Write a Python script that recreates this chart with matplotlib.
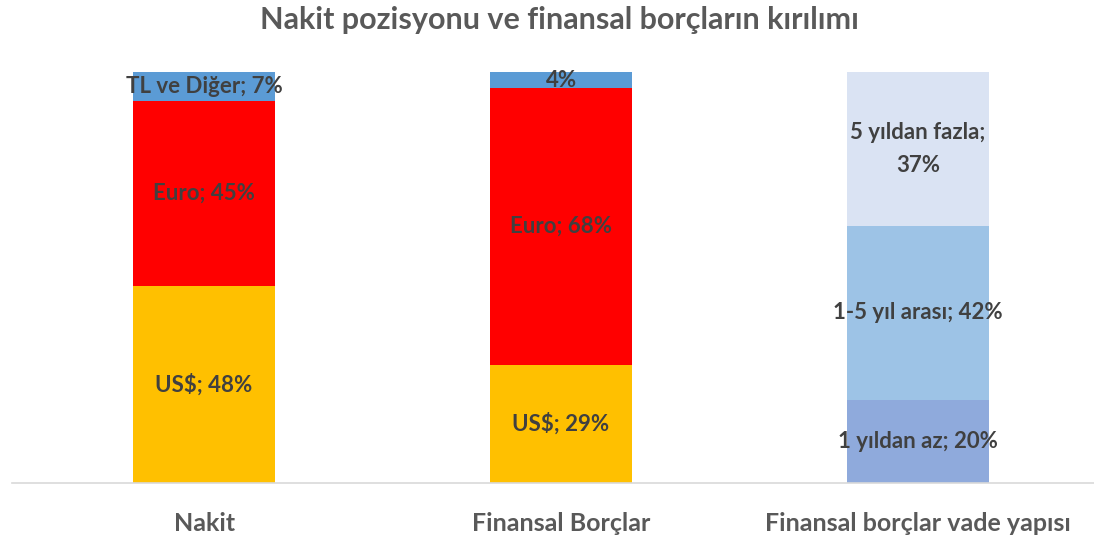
import matplotlib.pyplot as plt
import numpy as np

plt.rcParams['font.family'] = ['Lato', 'DejaVu Sans']

categories = ["Nakit", "Finansal Borçlar", "Finansal borçlar vade yapısı"]

# (label, value) segments from bottom to top, per bar
nakit = [("US$; 48%", 48), ("Euro; 45%", 45), ("TL ve Diğer; 7%", 7)]
borclar = [("US$; 29%", 29), ("Euro; 68%", 68), ("4%", 4)]
vade = [("1 yıldan az; 20%", 20), ("1-5 yıl arası; 42%", 42), ("5 yıldan fazla;\n37%", 37)]

colors_ccy = ["#FFC000", "#FF0000", "#5B9BD5"]
colors_vade = ["#8FAADC", "#9DC3E6", "#DAE3F3"]

stacks = [nakit, borclar, vade]
stack_colors = [colors_ccy, colors_ccy, colors_vade]

fig = plt.figure(figsize=(10.94, 5.37), dpi=100)
ax = fig.add_axes([0.011, 0.1006, 0.989, 0.7653])

width = 0.4
for i, (stack, cols) in enumerate(zip(stacks, stack_colors)):
    total = sum(v for _, v in stack)
    bottom = 0
    for (lab, v), c in zip(stack, cols):
        h = v / total
        ax.bar(i, h, width, bottom=bottom, color=c)
        ax.text(i, bottom + h / 2, lab, ha="center", va="center",
                fontsize=16, fontweight="bold", color="#404040",
                linespacing=1.7)
        bottom += h

ax.set_xlim(-0.538, 2.493)
ax.set_ylim(0, 1)
ax.set_yticks([])
ax.set_xticks(range(len(categories)))
ax.set_xticklabels(categories, fontsize=18, fontweight="bold", color="#595959")
ax.tick_params(axis="x", length=0, pad=21)
for s in ["top", "right", "left"]:
    ax.spines[s].set_visible(False)
ax.spines["bottom"].set_color("#D9D9D9")
ax.spines["bottom"].set_linewidth(1.2)

fig.text(0.511, 0.963, "Nakit pozisyonu ve finansal borçların kırılımı",
         ha="center", va="center", fontsize=22, fontweight="bold", color="#595959")

fig.savefig("out.png", dpi=100)
